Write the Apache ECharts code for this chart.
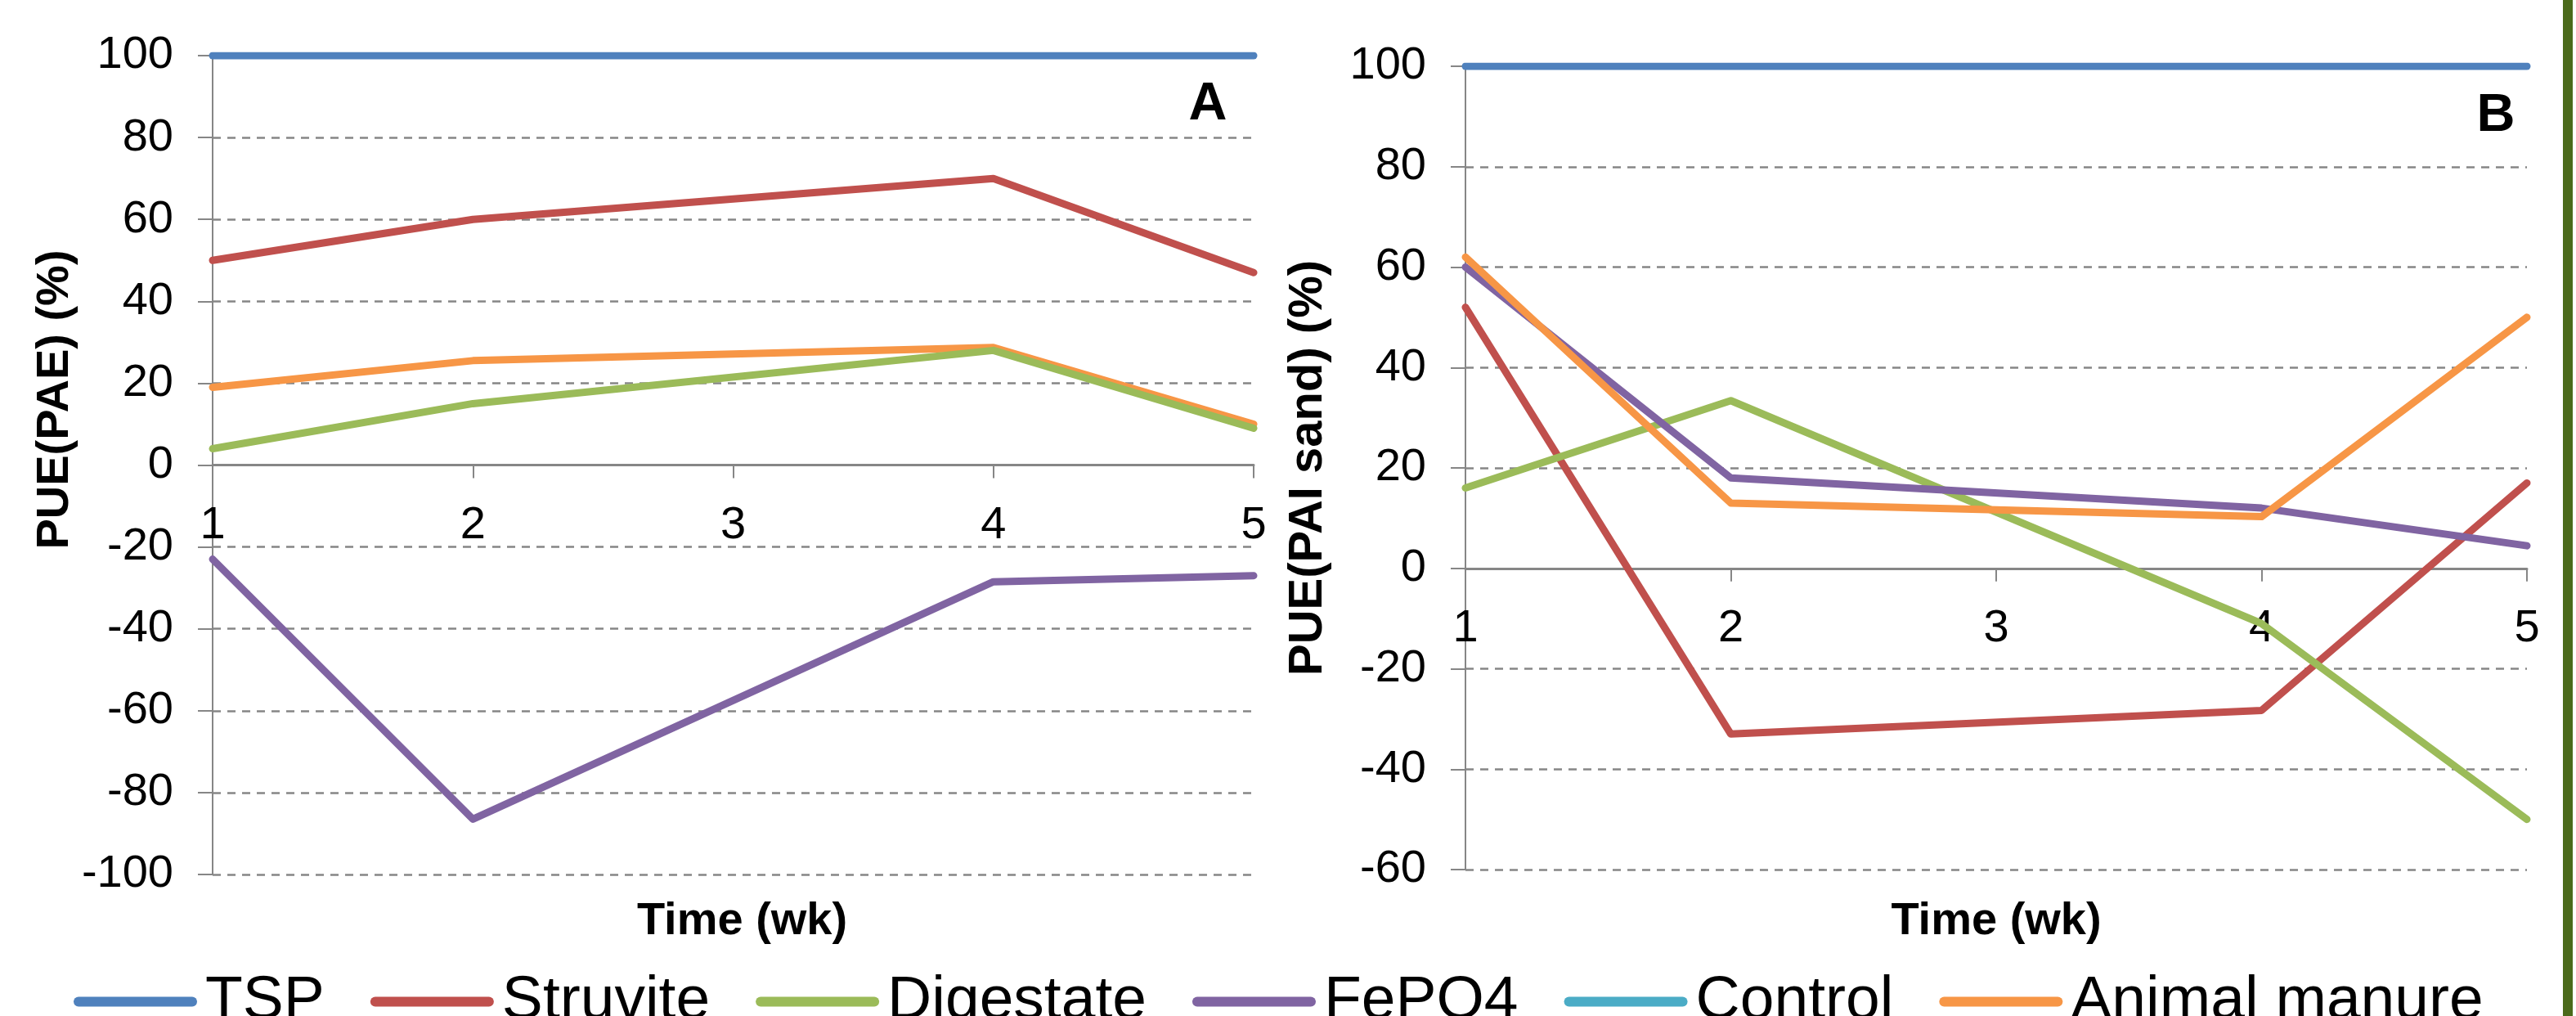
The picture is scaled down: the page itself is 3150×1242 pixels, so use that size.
<!DOCTYPE html>
<html>
<head>
<meta charset="utf-8">
<script src="https://cdn.jsdelivr.net/npm/echarts@6/dist/echarts.min.js"></script>
<style>
html,body{margin:0;padding:0;background:#fff;}
#chart{width:3150px;height:1242px;}
</style>
</head>
<body>
<div id="chart"></div>
<script>
// ---- data ----
const weeks = [1, 2, 4, 5];
const weekTicks = [1, 2, 3, 4, 5];
const seriesNames = ['TSP', 'Struvite', 'Digestate', 'FePO4', 'Control', 'Animal manure'];
const seriesColors = ['#4F81BD', '#C0504D', '#9BBB59', '#8064A2', '#4BACC6', '#F79646'];

// Panel A: PUE(PAE) (%)
const aTSP = [100, 100, 100, 100];
const aStruvite = [50, 60, 70, 47];
const aDigestate = [4, 15, 28, 9];
const aFePO4 = [-23, -86.5, -28.5, -27];
const aControl = [];
const aManure = [19, 25.5, 28.7, 10];

// Panel B: PUE(PAI sand) (%)
const bTSP = [100, 100, 100, 100];
const bStruvite = [52, -33, -28.3, 17];
const bDigestate = [16, 33.4, -11, -50];
const bFePO4 = [60, 18, 12, 4.5];
const bControl = [];
const bManure = [62, 13, 10.3, 50];

const panelA = [aTSP, aStruvite, aDigestate, aFePO4, aControl, aManure];
const panelB = [bTSP, bStruvite, bDigestate, bFePO4, bControl, bManure];

// ---- chart ----
const FONT = "'Liberation Sans', Arial, sans-serif";
const GRAY = '#868686';

function pairs(arr) { return arr.map((v, i) => [weeks[i], v]); }

// axis drawn along y = 0 (line, ticks) with labels just below the zero line
function xAxisZero(gridIndex, labelMargin) {
  return {
    type: 'value', gridIndex, min: weekTicks[0], max: weekTicks[weekTicks.length - 1], interval: 1,
    axisLine: { show: true, onZero: true, lineStyle: { color: GRAY, width: 3 } },
    axisTick: { show: true, length: 16, lineStyle: { color: GRAY, width: 2 } },
    axisLabel: { fontFamily: FONT, fontSize: 56, color: '#000', margin: labelMargin },
    splitLine: { show: false }
  };
}
// axis at the bottom carrying only the title
function xAxisTitle(gridIndex, nameGap, pad) {
  return {
    type: 'value', gridIndex, min: weekTicks[0], max: weekTicks[weekTicks.length - 1], interval: 1,
    position: 'bottom',
    name: 'Time (wk)', nameLocation: 'middle', nameGap,
    nameTextStyle: { fontFamily: FONT, fontSize: 56, fontWeight: 'bold', color: '#000', padding: pad },
    axisLine: { show: false, onZero: false },
    axisTick: { show: false },
    axisLabel: { show: false },
    splitLine: { show: false }
  };
}

function yAxisCfg(gridIndex, min, name, nameGap, pad, nameSize) {
  return {
    type: 'value', gridIndex, min, max: 100, interval: 20,
    name, nameLocation: 'middle', nameGap, nameRotate: 90,
    nameTextStyle: { fontFamily: FONT, fontSize: nameSize, fontWeight: 'bold', color: '#000', padding: pad },
    axisLine: { show: true, onZero: false, lineStyle: { color: GRAY, width: 2 } },
    axisTick: { show: true, length: 18, lineStyle: { color: GRAY, width: 2 } },
    axisLabel: { fontFamily: FONT, fontSize: 56, color: '#000', margin: 48 },
    splitLine: { show: true, lineStyle: { color: GRAY, width: 2.5, type: [10, 8] } }
  };
}

const series = [];
[panelA, panelB].forEach((panel, p) => {
  panel.forEach((arr, i) => {
    series.push({
      type: 'line', name: seriesNames[i],
      xAxisIndex: p, yAxisIndex: p,
      data: pairs(arr),
      showSymbol: false, symbol: 'none',
      color: seriesColors[i],
      z: (p === 0 && i === 2) ? 3 : 2,
      lineStyle: { width: 9, color: seriesColors[i], cap: 'round', join: 'round' },
      animation: false
    });
  });
});

const chart = echarts.init(document.getElementById('chart'), null, { renderer: 'canvas' });
chart.setOption({
  backgroundColor: '#ffffff',
  animation: false,
  grid: [
    { left: 260, top: 68, width: 1273, height: 1001, containLabel: false, outerBoundsMode: 'none' },
    { left: 1792, top: 81, width: 1298, height: 982, containLabel: false, outerBoundsMode: 'none' }
  ],
  xAxis: [xAxisZero(0, -454), xAxisZero(1, -322), xAxisTitle(0, 30, [0, 0, 0, 22]), xAxisTitle(1, 36, 0)],
  yAxis: [
    yAxisCfg(0, -100, 'PUE(PAE) (%)', 148, [0, 0, 0, 160], 56),
    yAxisCfg(1, -60, 'PUE(PAI sand) (%)', 163, 0, 58)
  ],
  legend: {
    data: seriesNames,
    left: 90, top: 1187, padding: 0,
    itemWidth: 151, itemHeight: 12, itemGap: 56,
    icon: 'path://M6,0 L145,0 A6,6 0 0 1 145,12 L6,12 A6,6 0 0 1 6,0 Z',
    textStyle: { fontFamily: FONT, fontSize: 75, color: '#000', padding: [0, 0, 0, 5] }
  },
  graphic: [
    { type: 'text', x: 1477, y: 128, style: { text: 'A', font: "bold 65px 'Liberation Sans', Arial, sans-serif", fill: '#000', align: 'center', verticalAlign: 'middle' } },
    { type: 'text', x: 3052, y: 142, style: { text: 'B', font: "bold 65px 'Liberation Sans', Arial, sans-serif", fill: '#000', align: 'center', verticalAlign: 'middle' } },
    { type: 'rect', shape: { x: 3134, y: 0, width: 12, height: 1242 }, style: { fill: '#4B6A1B' } }
  ],
  series
});
</script>
</body>
</html>
